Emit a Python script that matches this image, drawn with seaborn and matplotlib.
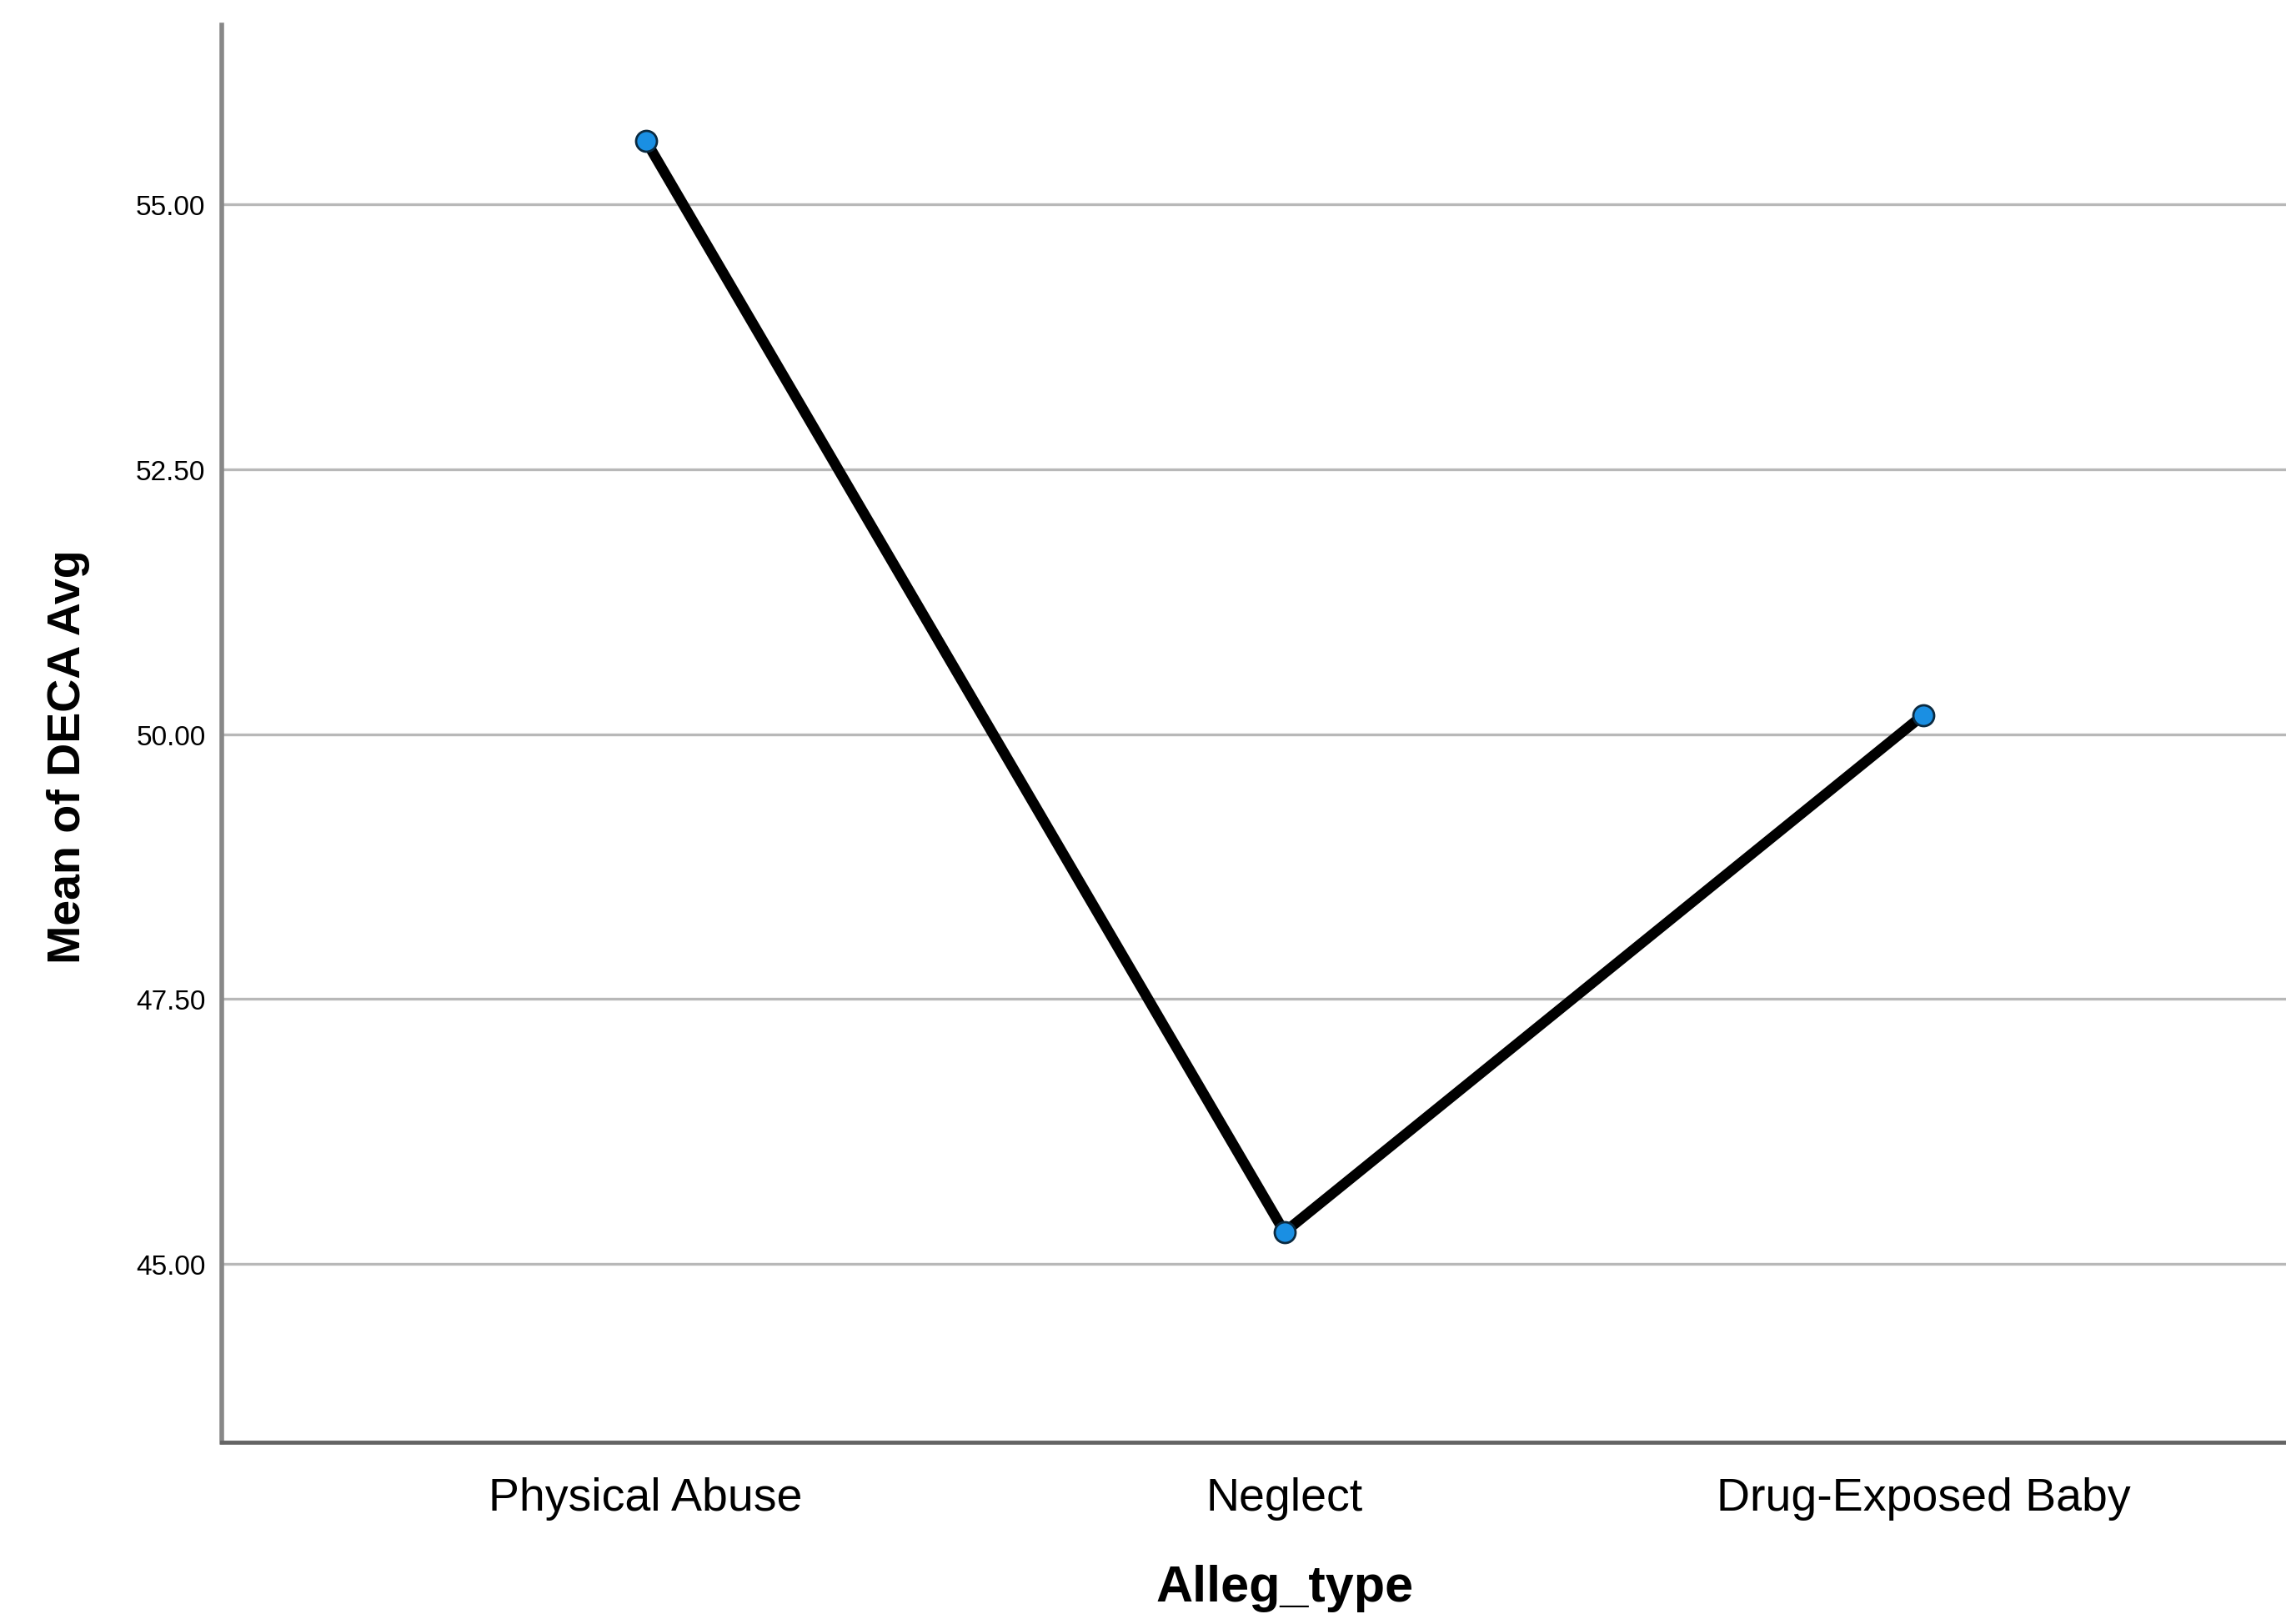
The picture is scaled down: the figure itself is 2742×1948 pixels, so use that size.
import matplotlib
matplotlib.use("Agg")
import matplotlib.pyplot as plt
import seaborn as sns
import pandas as pd

# values
alleg_types = ["Physical Abuse", "Neglect", "Drug-Exposed Baby"]
deca_means = [55.60, 45.30, 50.18]
y_ticks = [45.0, 47.5, 50.0, 52.5, 55.0]

df = pd.DataFrame({"Alleg_type": alleg_types, "DECA": deca_means})

sns.set_theme(style="white")
plt.rcParams["font.family"] = ["Liberation Sans", "DejaVu Sans"]

fig = plt.figure(figsize=(27.42, 19.49), dpi=100)
ax = fig.add_axes([0.097, 0.112, 0.903, 0.872])

sns.lineplot(data=df, x="Alleg_type", y="DECA", ax=ax, color="black",
             linewidth=9, marker="o", markersize=18, markerfacecolor="#1a8fe3",
             markeredgecolor="#0b2a40", markeredgewidth=2, errorbar=None, zorder=3)

ax.set_xlim(-0.664, 2.568)
ax.set_ylim(43.32, 56.69)
ax.set_yticks(y_ticks)
ax.set_yticklabels([f"{v:.2f}" for v in y_ticks])
ax.yaxis.grid(True, color="#b8b8b8", linewidth=2.4)
ax.xaxis.grid(False)
ax.set_axisbelow(True)

ax.tick_params(axis="y", length=0, pad=14, labelsize=24, labelcolor="black")
ax.tick_params(axis="x", length=0, pad=30, labelsize=40, labelcolor="black")

for side in ["top", "right"]:
    ax.spines[side].set_visible(False)
ax.spines["left"].set_color("#888888")
ax.spines["left"].set_linewidth(4)
ax.spines["bottom"].set_color("#646464")
ax.spines["bottom"].set_linewidth(3.5)

ax.set_xlabel("Alleg_type", fontsize=44, fontweight="bold", color="black")
ax.set_ylabel("Mean of DECA Avg", fontsize=40, fontweight="bold", color="black")
ax.xaxis.set_label_coords(0.515, -0.086)
ax.yaxis.set_label_coords(-0.064, 0.484)

fig.savefig("out.png", dpi=100, facecolor="white")
